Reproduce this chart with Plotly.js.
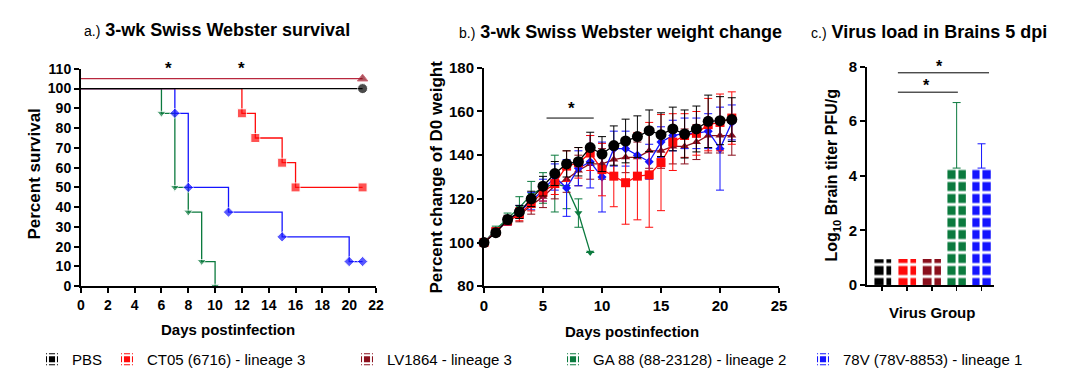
<!DOCTYPE html>
<html>
<head>
<meta charset="utf-8">
<script src="https://cdn.plot.ly/plotly-3.0.1.min.js"></script>
<style>html,body{margin:0;padding:0;background:#fff;}#chart{width:1069px;height:376px;}</style>
</head>
<body>
<div id="chart"></div>
<script>
// ---------- Data ----------
// Panel a: survival (Kaplan-Meier steps)
const pbsSurvX = [0, 21];
const pbsSurvY = [100, 100];
const ct05SurvX = [0, 12, 13, 15, 16, 21];
const ct05SurvY = [100, 87.5, 75, 62.5, 50, 50];
const lvSurvX = [0, 21];
const lvSurvY = [105, 105];
const gaSurvX = [0, 6, 7, 8, 9, 10];
const gaSurvY = [100, 87.5, 50, 37.5, 12.5, 0];
const v78SurvX = [0, 7, 8, 11, 15, 20, 21];
const v78SurvY = [100, 87.5, 50, 37.5, 25, 12.5, 12.5];

// Panel b: weight change (% of D0)
const days = [0,1,2,3,4,5,6,7,8,9,10,11,12,13,14,15,16,17,18,19,20,21];
const pbsW   = [100,104.5,110.5,114,120,125.8,131.6,136,137,143.5,140.5,144.4,146.5,148.5,151.2,149.4,152,149.7,152,155.5,155.8,156.3];
const pbsSD  = [0,1.5,2,3,3.5,4.5,5.5,6,6.5,7,8,9,10,9.5,9.5,10,10,11,10.5,12,11,10];
const ct05W  = [100,105,110,113,118,123,127,135,136.5,141,133.4,130.4,127.4,130.4,131,136.6,146,149,150,154,155,157];
const ct05SD = [0,1.5,2,3,3.5,4,5,7,7,8,12,14,19,20,24,22,13,10,10,12,13,12];
const lvW    = [100,105,110,112.5,117,121,126,129,133,136,136,138,139,139,142,142,144,144,146,149,149,149];
const lvSD   = [0,1.5,2,3,4,5,6,6,7,7,7,7,7,7,8,8,8,8,8,8,8,9];
const v78W   = [100,105,110,114,119,124,130,125,134,137,130,143,143,140,137,146,149,150,150,151,143,155];
const v78SD  = [0,1.5,2,3,4,5,6,13,8,12,16,8,8,8,8,7,7,7,7,8,19,8];
const gaDays = [0,1,2,3,4,5,6,7,8,9];
const gaW    = [100,106,111,116,122,125,127,125.5,113.5,95.5];
const gaSD   = [0,1.5,2.5,5,6,7,13,10,6.5,0];

// Panel c: virus load in brains
const groups = ['PBS', 'CT05 (6716) - lineage 3', 'LV1864 - lineage 3', 'GA 88 (88-23128) - lineage 2', '78V (78V-8853) - lineage 1'];
const titerMean = [0.94, 0.95, 0.95, 4.28, 4.28];
const titerSD = [0, 0, 0, 2.4, 0.89];

// significance marks
const sigA = {x: [6.5, 12], y: [110, 110]};
const sigBLine = [5.3, 9.3, 157];
const sigBStar = [7.4, 161.5];
const sigCLines = [[0.64, 4.3, 7.77], [0.64, 3.05, 7.06]];
const sigCStarX = [2.33, 1.8];

// ---------- Styles ----------
const colors = ['#000000', '#ff0a0a', '#8a0f1c', '#0b7a3e', '#1414ff'];
const FONT = 'Liberation Sans, Arial, sans-serif';

function dropFirst(arr, s) { return arr.map((d, i) => i === 0 ? 0 : s); }

const traces = [];
// Panel a
function surv(x, y, color, symbol, size, lineColor) {
  return {x: x, y: y, xaxis: 'x', yaxis: 'y', type: 'scatter', mode: 'lines+markers',
    line: {shape: 'hv', color: lineColor || color, width: 1.3},
    marker: {symbol: symbol, color: color, size: dropFirst(x, size)},
    cliponaxis: false, showlegend: false, hoverinfo: 'skip'};
}
traces.push(surv(gaSurvX, gaSurvY, colors[3], 'triangle-down', 8));
traces.push(surv(v78SurvX, v78SurvY, colors[4], 'diamond', 8));
traces.push(surv(ct05SurvX, ct05SurvY, colors[1], 'square', 9));
traces.push(surv(lvSurvX, lvSurvY, colors[2], 'triangle-up', 9, '#b8283e'));
traces.push(surv(pbsSurvX, pbsSurvY, colors[0], 'circle', 10));

// Panel b
function wt(x, y, sd, color, symbol, size) {
  return {x: x, y: y, xaxis: 'x2', yaxis: 'y2', type: 'scatter', mode: 'lines+markers',
    line: {color: color, width: 1.3},
    marker: {symbol: symbol, color: color, size: size},
    error_y: {type: 'data', array: sd, visible: true, color: color, thickness: 1, width: 4},
    cliponaxis: false, showlegend: false, hoverinfo: 'skip'};
}
traces.push(wt(gaDays, gaW, gaSD, colors[3], 'triangle-down', 7));
traces.push(wt(days, lvW, lvSD, colors[2], 'triangle-up', 8));
traces.push(wt(days, v78W, v78SD, colors[4], 'diamond', 7));
traces.push(wt(days, ct05W, ct05SD, colors[1], 'square', 9));
traces.push(wt(days, pbsW, pbsSD, colors[0], 'circle', 11));

// Panel c
const legendIds = ['legend', 'legend2', 'legend3', 'legend4', 'legend5'];
groups.forEach((g, i) => {
  traces.push({x: [g], y: [titerMean[i]], xaxis: 'x3', yaxis: 'y3', type: 'bar', name: g,
    width: 0.74, legend: legendIds[i],
    marker: {color: colors[i], line: {width: 0},
      pattern: {shape: '+', fgcolor: '#ffffff', bgcolor: colors[i], size: 12, solidity: 0.42, fillmode: 'replace'}},
    error_y: {type: 'data', symmetric: false, array: [titerSD[i]], arrayminus: [0], visible: titerSD[i] > 0,
      color: colors[i], thickness: 1, width: 4},
    hoverinfo: 'skip'});
});

const tickFont = {family: FONT, size: 14, color: '#000', weight: 'bold'};
function axis(extra) {
  return Object.assign({showline: true, linecolor: '#000', linewidth: 2, ticks: 'outside', ticklen: 5,
    tickwidth: 2, tickcolor: '#000', showgrid: false, zeroline: false, tickfont: tickFont, fixedrange: true}, extra);
}

const W = 1069, H = 376;
const px = v => v / W, py = v => 1 - v / H;

const annotations = [];
function ann(text, x, y, size, opts) {
  annotations.push(Object.assign({text: text, x: x, y: y, xref: 'paper', yref: 'paper', showarrow: false,
    xanchor: 'center', yanchor: 'middle', font: {family: FONT, size: size, color: '#000', weight: 'bold'}}, opts || {}));
}
// titles
ann('<span style="font-size:14px;font-weight:normal">a.)</span> 3-wk Swiss Webster survival', px(217), py(30), 18);
ann('<span style="font-size:14px;font-weight:normal">b.)</span> 3-wk Swiss Webster weight change', px(620), py(32), 18);
ann('<span style="font-size:14px;font-weight:normal">c.)</span> Virus load in Brains 5 dpi', px(929), py(32), 18);
// axis titles
ann('Percent survival', px(35), py(175), 17, {textangle: -90});
ann('Days postinfection', px(228), py(330), 15);
ann('Percent change of D0 weight', px(437), py(178), 17, {textangle: -90});
ann('Days postinfection', px(632), py(332), 15);
ann('Log<sub>10</sub> Brain titer PFU/g', px(833), py(176), 16, {textangle: -90});
ann('Virus Group', px(932), py(313), 15);
// asterisks
const starFont = {family: FONT, size: 17, color: '#000', weight: 'bold'};
sigA.x.forEach((x, i) => annotations.push({text: '*', x: x, y: sigA.y[i], xref: 'x', yref: 'y', showarrow: false,
  yanchor: 'middle', font: starFont}));
annotations.push({text: '*', x: sigBStar[0], y: sigBStar[1], xref: 'x2', yref: 'y2', showarrow: false,
  yanchor: 'middle', font: starFont});
sigCLines.forEach((l, i) => annotations.push({text: '*', x: sigCStarX[i], y: l[2], xref: 'x3', yref: 'y3', showarrow: false,
  yanchor: 'bottom', yshift: -4, font: {family: FONT, size: 16, color: '#000', weight: 'bold'}}));

const shapes = [];
shapes.push({type: 'line', xref: 'x2', yref: 'y2', x0: sigBLine[0], x1: sigBLine[1], y0: sigBLine[2], y1: sigBLine[2],
  line: {color: '#000', width: 1}});
sigCLines.forEach(l => shapes.push({type: 'line', xref: 'x3', yref: 'y3', x0: l[0], x1: l[1], y0: l[2], y1: l[2],
  line: {color: '#000', width: 1}}));

const legFont = {family: FONT, size: 15, color: '#000'};
const legendX = [32, 107, 347, 553, 803];
const layout = {
  width: W, height: H, margin: {l: 0, r: 0, t: 0, b: 0},
  paper_bgcolor: '#fff', plot_bgcolor: 'rgba(0,0,0,0)',
  barmode: 'overlay', bargap: 0.3,
  xaxis: axis({domain: [px(81), px(376)], range: [0, 22], dtick: 2, tick0: 0, anchor: 'y'}),
  yaxis: axis({domain: [1 - 287/H, 1 - 69/H], range: [0, 110], dtick: 10, tick0: 0, anchor: 'x'}),
  xaxis2: axis({domain: [px(484), px(779)], range: [0, 25], dtick: 5, tick0: 0, anchor: 'y2', tickfont: Object.assign({}, tickFont, {size: 15})}),
  yaxis2: axis({domain: [1 - 287/H, 1 - 68/H], range: [80, 180], dtick: 20, tick0: 80, anchor: 'x2', tickfont: Object.assign({}, tickFont, {size: 15})}),
  xaxis3: axis({domain: [px(867), px(994)], type: 'category', categoryorder: 'array', categoryarray: groups,
    range: [-0.6, 4.5], showticklabels: false, anchor: 'y3', ticklen: 4, tickwidth: 1.5}),
  yaxis3: axis({domain: [1 - 285.7/H, 1 - 66.7/H], range: [0, 8], dtick: 2, tick0: 0, anchor: 'x3', tickfont: Object.assign({}, tickFont, {size: 15})}),
  annotations: annotations,
  shapes: shapes,
  showlegend: true
};
legendIds.forEach((id, i) => {
  layout[id] = {x: px(legendX[i]), y: py(360), xanchor: 'left', yanchor: 'middle', orientation: 'h',
    font: legFont, bgcolor: 'rgba(0,0,0,0)', borderwidth: 0, itemwidth: 30};
});

Plotly.newPlot('chart', traces, layout, {staticPlot: true, displayModeBar: false});
</script>
</body>
</html>
